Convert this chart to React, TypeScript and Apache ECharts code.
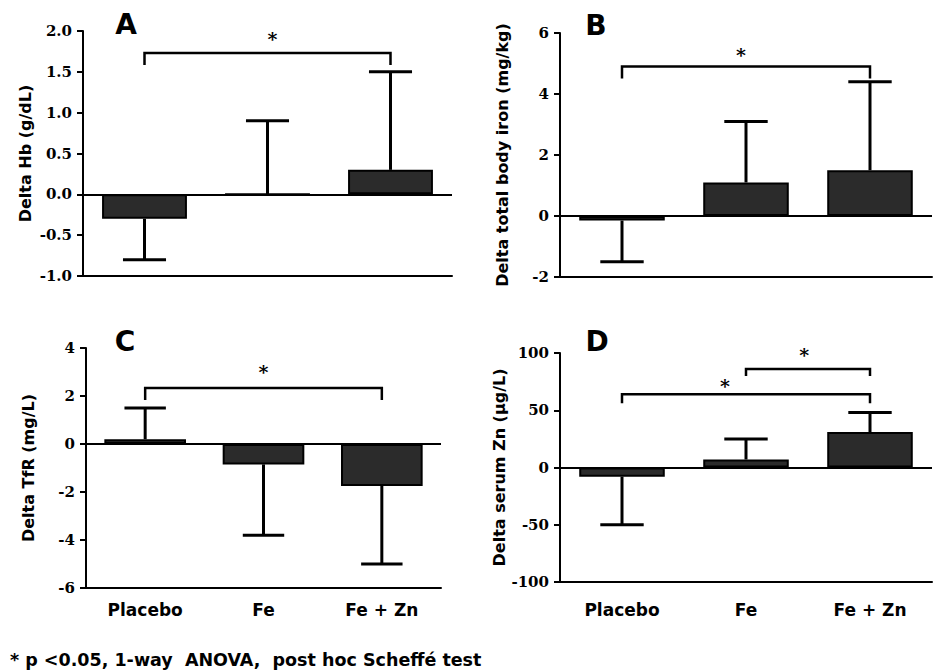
import React, { useEffect, useRef } from "react";
import * as echarts from "echarts";

// ---- data ----
const categories = ["Placebo", "Fe", "Fe + Zn"];

const hbMean = [-0.3, 0, 0.3];
const hbErrEnd = [-0.8, 0.9, 1.5];

const ironMean = [-0.15, 1.1, 1.5];
const ironErrEnd = [-1.5, 3.1, 4.4];

const tfrMean = [0.2, -0.85, -1.75];
const tfrErrEnd = [1.5, -3.8, -5.0];

const znMean = [-8, 7, 31];
const znErrEnd = [-50, 25, 48];

// significance brackets: [fromCategoryIndex, toCategoryIndex, level]
const hbBrackets = [[0, 2, 1.73]];
const ironBrackets = [[0, 2, 4.9]];
const tfrBrackets = [[0, 2, 2.33]];
const znBrackets = [
  [0, 2, 64],
  [1, 2, 86],
];

const yTitles = [
  "Delta Hb (g/dL)",
  "Delta total body iron (mg/kg)",
  "Delta TfR (mg/L)",
  "Delta serum Zn (\u00b5g/L)",
];
const panelLetters = ["A", "B", "C", "D"];
const yRanges = [
  { min: -1, max: 2, interval: 0.5, decimals: 1 },
  { min: -2, max: 6, interval: 2, decimals: 0 },
  { min: -6, max: 4, interval: 2, decimals: 0 },
  { min: -100, max: 100, interval: 50, decimals: 0 },
];
const footnote = "* p <0.05, 1-way  ANOVA,  post hoc Scheff\u00e9 test";

// ---- layout / style (not data) ----
const grids = [
  { left: 83, top: 31, width: 369, height: 245 },
  { left: 560, top: 33, width: 372, height: 244 },
  { left: 86, top: 348, width: 355, height: 240 },
  { left: 560, top: 353, width: 372, height: 229 },
];
const letterPos = [
  [126, 24],
  [596, 25],
  [125, 341],
  [597, 341],
];
const bracketTick = [12, 12, 12, [9, 7]];
const starFrac = [[0.52], [0.48], [0.5], [0.415, 0.47]];
const starLift = [[14], [12], [16], [8, 14]];
const xLabelMargin = [12, 12, 13, 19];

const SANS = "DejaVu Sans, Liberation Sans, Arial, sans-serif";
const SERIF = "DejaVu Serif, Liberation Serif, Times New Roman, serif";

export default function App() {
  const ref = useRef<HTMLDivElement>(null);

  useEffect(() => {
    if (!ref.current) return;
    const chart = echarts.init(ref.current, null, { renderer: "svg" });

    const means = [hbMean, ironMean, tfrMean, znMean];
    const errs = [hbErrEnd, ironErrEnd, tfrErrEnd, znErrEnd];
    const brackets = [hbBrackets, ironBrackets, tfrBrackets, znBrackets];

    const series: any[] = [];
    means.forEach((m, i) => {
      series.push({
        type: "bar",
        xAxisIndex: i,
        yAxisIndex: i,
        data: m,
        barWidth: "69%",
        itemStyle: { color: "#2b2b2b", borderColor: "#000", borderWidth: 2 },
        z: 2,
        markLine: {
          silent: true,
          symbol: "none",
          label: { show: false },
          lineStyle: { color: "#000", width: 2, type: "solid" },
          data: [{ yAxis: 0 }],
        },
      });
      series.push({
        type: "custom",
        xAxisIndex: i,
        yAxisIndex: i,
        z: 3,
        encode: { x: 0, y: [1, 2] },
        data: m.map((v, k) => [k, v, errs[i][k]]),
        renderItem: (params: any, api: any) => {
          const p = api.coord([api.value(0), api.value(1)]);
          const e = api.coord([api.value(0), api.value(2)]);
          const capW = api.size([1, 0])[0] * 0.35;
          return {
            type: "group",
            children: [
              {
                type: "line",
                shape: { x1: p[0], y1: p[1], x2: e[0], y2: e[1] },
                style: { stroke: "#000", lineWidth: 3 },
              },
              {
                type: "line",
                shape: { x1: e[0] - capW / 2, y1: e[1], x2: e[0] + capW / 2, y2: e[1] },
                style: { stroke: "#000", lineWidth: 3 },
              },
            ],
          };
        },
      });
      series.push({
        type: "custom",
        xAxisIndex: i,
        yAxisIndex: i,
        z: 4,
        clip: false,
        encode: { x: [0, 1], y: 2 },
        data: brackets[i],
        renderItem: (params: any, api: any) => {
          const idx = params.dataIndexInside;
          const a = api.coord([api.value(0), api.value(2)]);
          const b = api.coord([api.value(1), api.value(2)]);
          const tk = Array.isArray(bracketTick[i]) ? (bracketTick[i] as number[])[idx] : (bracketTick[i] as number);
          const frac = starFrac[i][idx];
          const lift = starLift[i][idx];
          return {
            type: "group",
            children: [
              {
                type: "polyline",
                shape: {
                  points: [
                    [a[0], a[1] + tk],
                    [a[0], a[1]],
                    [b[0], b[1]],
                    [b[0], b[1] + tk],
                  ],
                },
                style: { stroke: "#000", lineWidth: 2.5, fill: "none" },
              },
              {
                type: "text",
                x: a[0] + (b[0] - a[0]) * frac,
                y: a[1] - lift,
                style: {
                  text: "*",
                  fontFamily: SERIF,
                  fontWeight: "bold",
                  fontSize: 19,
                  fill: "#000",
                  align: "center",
                  verticalAlign: "middle",
                },
              },
            ],
          };
        },
      });
    });

    const option: any = {
      animation: false,
      backgroundColor: "#fff",
      grid: grids.map((g) => ({ ...g, containLabel: false })),
      xAxis: grids.map((g, i) => ({
        type: "category",
        gridIndex: i,
        data: categories,
        boundaryGap: true,
        axisLine: { onZero: false, lineStyle: { color: "#000", width: 2 } },
        axisTick: { alignWithLabel: true, length: 6, lineStyle: { color: "#000", width: 2 } },
        axisLabel: {
          show: i >= 2,
          margin: xLabelMargin[i],
          fontFamily: SANS,
          fontWeight: "bold",
          fontSize: 17,
          color: "#000",
        },
        splitLine: { show: false },
      })),
      yAxis: yRanges.map((r, i) => ({
        type: "value",
        gridIndex: i,
        min: r.min,
        max: r.max,
        interval: r.interval,
        splitLine: { show: false },
        axisLine: { show: true, onZero: false, lineStyle: { color: "#000", width: 2 } },
        axisTick: { show: true, length: 6, lineStyle: { color: "#000", width: 2 } },
        axisLabel: {
          margin: 11,
          fontFamily: SERIF,
          fontWeight: "bold",
          fontSize: 15,
          color: "#000",
          formatter: (v: number) => v.toFixed(r.decimals),
        },
        name: yTitles[i],
        nameLocation: "middle",
        nameGap: 50,
        nameTextStyle: {
          fontFamily: SANS,
          fontWeight: "bold",
          fontSize: 16,
          color: "#000",
        },
      })),
      series,
      graphic: [
        ...panelLetters.map((t, i) => ({
          type: "text",
          x: letterPos[i][0],
          y: letterPos[i][1],
          style: {
            text: t,
            fontFamily: SANS,
            fontWeight: 900,
            fontSize: 28,
            fill: "#000",
            align: "center",
            verticalAlign: "middle",
          },
        })),
        {
          type: "text",
          x: 10,
          y: 660,
          style: {
            text: footnote,
            fontFamily: SANS,
            fontWeight: "bold",
            fontSize: 17.5,
            fill: "#000",
            align: "left",
            verticalAlign: "middle",
          },
        },
      ],
    };

    chart.setOption(option);
    return () => chart.dispose();
  }, []);

  return (
    <div
      ref={ref}
      style={{ position: "absolute", left: 0, top: 0, width: 934, height: 672, background: "#fff" }}
    />
  );
}
